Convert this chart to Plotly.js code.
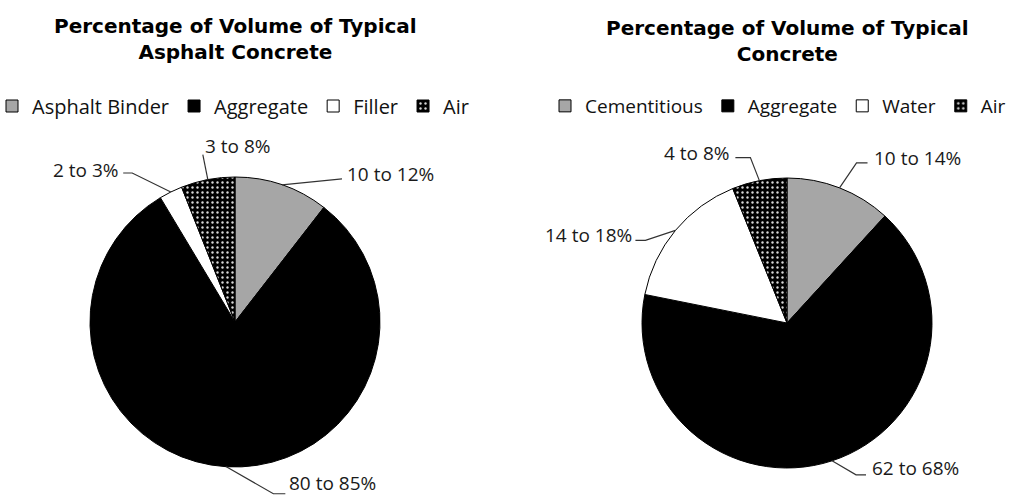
<!DOCTYPE html>
<html>
<head>
<meta charset="utf-8">
<script src="https://cdn.plot.ly/plotly-3.0.1.min.js"></script>
<style>html,body{margin:0;padding:0;background:#fff;}#chart{width:1016px;height:497px;}</style>
</head>
<body>
<div id="chart"></div>
<script>
// ---- data ----
const asphaltTitle = 'Percentage of Volume of Typical<br>Asphalt Concrete';
const asphaltLabels = ['Asphalt Binder', 'Aggregate', 'Filler', 'Air'];
const asphaltValues = [10.5, 80.9, 2.6, 6.0];
const asphaltText = ['10 to 12%', '80 to 85%', '2 to 3%', '3 to 8%'];

const concreteTitle = 'Percentage of Volume of Typical<br>Concrete';
const concreteLabels = ['Cementitious', 'Aggregate', 'Water', 'Air'];
const concreteValues = [11.8, 66.35, 15.75, 6.1];
const concreteText = ['10 to 14%', '62 to 68%', '14 to 18%', '4 to 8%'];

// ---- styles / layout ----
const W = 1016, H = 497;
const sliceColors = ['#a6a6a6', '#000000', '#ffffff', '#000000'];
const sliceShapes = ['', '', '', '.'];
const pies = [
  {cx: 235, cy: 322, r: 145, legend: 'legend', group: 'asphalt', legendX: -8, legendFont: 20, titleY: 25},
  {cx: 787, cy: 323, r: 145, legend: 'legend2', group: 'concrete', legendX: 545, legendFont: 19, titleY: 27}
];
// leader geometry per slice: elbow offset from slice edge, horizontal run, text placement
const leaders = [
  [
    {ex: 60, ey: -6, run: 0, tx: 4, ty: -5, anchor: 'left'},
    {ex: 47, ey: 27, run: 12, tx: 3, ty: -11, anchor: 'left'},
    {ex: -38.6, ey: -19, run: -9, tx: -3, ty: -3, anchor: 'right'},
    {ex: -5, ey: -25, run: 0, tx: 1, ty: -9, anchor: 'left'}
  ],
  [
    {ex: 17, ey: -25, run: 11, tx: 5, ty: -5, anchor: 'left'},
    {ex: 24, ey: 14, run: 10, tx: 5, ty: -7, anchor: 'left'},
    {ex: -30, ey: 10, run: -10, tx: -2, ty: -5, anchor: 'right'},
    {ex: -9, ey: -23, run: -15, tx: -4, ty: -5, anchor: 'right'}
  ]
];

const px = x => x / W;
const py = y => 1 - y / H;

const datasets = [
  {labels: asphaltLabels, values: asphaltValues, text: asphaltText, title: asphaltTitle},
  {labels: concreteLabels, values: concreteValues, text: concreteText, title: concreteTitle}
];

const traces = [];
const shapes = [];
const annotations = [];

datasets.forEach((d, i) => {
  const p = pies[i];
  traces.push({
    type: 'pie',
    labels: d.labels,
    values: d.values,
    sort: false,
    direction: 'clockwise',
    rotation: 0,
    textinfo: 'none',
    hoverinfo: 'label+percent',
    legend: p.legend,
    legendgroup: p.group,
    domain: {x: [px(p.cx - p.r), px(p.cx + p.r)], y: [py(p.cy + p.r), py(p.cy - p.r)]},
    marker: {
      colors: sliceColors,
      line: {color: '#000000', width: 1},
      pattern: {shape: sliceShapes, fgcolor: '#d8d8d8', bgcolor: '#000000', size: 5, solidity: 0.18}
    }
  });

  // titles
  annotations.push({
    xref: 'paper', yref: 'paper', x: px(p.cx), y: py(p.titleY - 13), xanchor: 'center', yanchor: 'top',
    text: '<b>' + d.title + '</b>', showarrow: false,
    font: {family: 'DejaVu Sans', size: 20, color: '#000'}
  });

  // labels with leader lines
  const total = d.values.reduce((a, b) => a + b, 0);
  let cum = 0;
  d.values.forEach((v, k) => {
    const theta = 2 * Math.PI * (cum + v / 2) / total;
    cum += v;
    const x0 = p.cx + p.r * Math.sin(theta);
    const y0 = p.cy - p.r * Math.cos(theta);
    const L = leaders[i][k];
    const x1 = x0 + L.ex, y1 = y0 + L.ey;
    const x2 = x1 + L.run, y2 = y1;
    shapes.push({
      type: 'path', xref: 'paper', yref: 'paper',
      path: `M ${px(x0)} ${py(y0)} L ${px(x1)} ${py(y1)} L ${px(x2)} ${py(y2)}`,
      line: {color: '#333333', width: 1.2}
    });
    annotations.push({
      xref: 'paper', yref: 'paper', x: px(x2 + L.tx), y: py(y2 + L.ty),
      xanchor: L.anchor, yanchor: 'middle', text: d.text[k], showarrow: false,
      borderpad: 0,
      font: {family: 'Open Sans', size: 19, color: '#1a1a1a'}
    });
  });
});

const legendBase = {
  orientation: 'h', xanchor: 'left', yanchor: 'middle', y: py(106),
  bgcolor: 'rgba(0,0,0,0)', borderwidth: 0, traceorder: 'normal'
};
const legendFor = p => Object.assign({}, legendBase, {
  x: px(p.legendX),
  font: {family: 'Open Sans', size: p.legendFont, color: '#111'}
});

const layout = {
  width: W, height: H,
  margin: {l: 0, r: 0, t: 0, b: 0, autoexpand: false},
  paper_bgcolor: '#ffffff',
  plot_bgcolor: '#ffffff',
  showlegend: true,
  legend: legendFor(pies[0]),
  legend2: legendFor(pies[1]),
  shapes: shapes,
  annotations: annotations
};

Plotly.newPlot('chart', traces, layout, {displayModeBar: false, staticPlot: true});
</script>
</body>
</html>
